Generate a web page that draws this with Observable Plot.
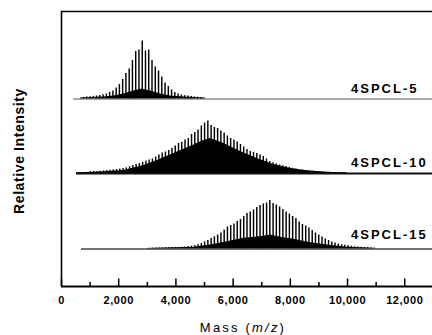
<!DOCTYPE html>
<html><head><meta charset="utf-8">
<script src="https://cdn.jsdelivr.net/npm/d3@7"></script>
<script src="https://cdn.jsdelivr.net/npm/@observablehq/plot@0.6"></script>
<style>
body{margin:0;background:#fff}
#chart svg{display:block}
#chart g[aria-label="x-axis tick label"] text{font-weight:bold;letter-spacing:0.6px}
</style></head><body><div id="chart"></div>
<script>
// ---- data ----
const seriesNames = ["4SPCL-5", "4SPCL-10", "4SPCL-15"];

// 4SPCL-5 main peak series
const s5Mass = [770, 884, 998, 1112, 1226, 1340, 1454, 1568, 1682, 1796, 1910, 2024, 2138, 2252, 2366, 2480, 2594, 2708, 2822, 2936, 3050, 3164, 3278, 3392, 3506, 3620, 3734, 3848, 3962, 4076, 4190, 4304, 4418, 4532, 4646, 4760, 4874, 4988];
const s5Int  = [1.5, 2, 2.2, 2.6, 3, 3.5, 4.2, 5, 6.5, 8, 11, 14.5, 19.5, 25.5, 30, 38.5, 47.5, 49, 58, 48, 49, 38.5, 32, 28, 22, 16, 12.5, 9, 6.5, 5, 4, 3.4, 3, 2.5, 2.1, 1.8, 1.5, 1.3];
// 4SPCL-5 dense low-level peaks (black fill)
const s5FillMass = [664, 1480, 1830, 2180, 2529, 2821, 3112, 3462, 3811, 4277, 4976];
const s5FillInt  = [1, 2, 3, 5, 8, 10, 8, 5, 3, 2, 1];

// 4SPCL-10 main peak series
const s10Mass = [1012, 1126, 1240, 1354, 1468, 1582, 1696, 1810, 1924, 2038, 2152, 2266, 2380, 2494, 2608, 2722, 2836, 2950, 3064, 3178, 3292, 3406, 3520, 3634, 3748, 3862, 3976, 4090, 4204, 4318, 4432, 4546, 4660, 4774, 4888, 5002, 5116, 5230, 5344, 5458, 5572, 5686, 5800, 5914, 6028, 6142, 6256, 6370, 6484, 6598, 6712, 6826, 6940, 7054, 7168, 7282, 7396, 7510, 7624, 7738, 7852, 7966, 8080, 8194, 8308, 8422, 8536, 8650, 8764, 8878, 8992, 9106];
const s10Int  = [1.7, 1.8, 2.0, 2.3, 2.6, 2.9, 3.3, 3.6, 4.0, 4.4, 5.0, 5.6, 6.8, 8.0, 9.0, 10.0, 11.3, 12.4, 13.5, 14.5, 16.5, 18.5, 20.5, 21.5, 23.0, 25.0, 27.5, 30.0, 31.0, 33.5, 35.0, 39.0, 41.0, 43.5, 47.5, 50.5, 52.5, 48.0, 46.0, 45.0, 42.5, 40.5, 37.5, 35.0, 33.5, 31.5, 29.0, 26.5, 24.0, 22.0, 21.0, 20.0, 18.5, 17.0, 14.5, 12.0, 10.8, 9.6, 8.5, 7.8, 6.9, 6.0, 5.2, 4.4, 3.8, 3.3, 2.9, 2.5, 2.2, 1.9, 1.6, 1.3];
const s10FillMass = [524, 1364, 2178, 2878, 3346, 3927, 4510, 4976, 5210, 5675, 6259, 6843, 7423, 8007, 8591, 9056, 9500, 10000];
const s10FillInt  = [0.8, 1.5, 3, 8, 13, 20, 27, 33, 35, 30, 22, 15, 9, 5, 2.7, 1.7, 1, 0.8];

// 4SPCL-15 main peak series
const s15Mass = [3065, 3179, 3293, 3407, 3521, 3635, 3749, 3863, 3977, 4091, 4205, 4319, 4433, 4547, 4661, 4775, 4889, 5003, 5117, 5231, 5345, 5459, 5573, 5687, 5801, 5915, 6029, 6143, 6257, 6371, 6485, 6599, 6713, 6827, 6941, 7055, 7169, 7283, 7397, 7511, 7625, 7739, 7853, 7967, 8081, 8195, 8309, 8423, 8537, 8651, 8765, 8879, 8993, 9107, 9221, 9335, 9449, 9563, 9677, 9791, 9905, 10019, 10133, 10247, 10361, 10475, 10589, 10703, 10817, 10931];
const s15Int  = [0.8, 0.9, 1.0, 1.0, 1.1, 1.2, 1.3, 1.4, 1.5, 1.6, 1.8, 2.0, 2.4, 2.8, 3.3, 4.2, 5.5, 7.2, 8.5, 10.5, 12.2, 14, 16, 19, 22, 23.5, 25, 27.5, 29.5, 32.5, 35.5, 37, 39, 41.5, 43.5, 45, 46, 48.5, 45.5, 44, 42, 39.5, 37, 35, 32.5, 30.5, 27, 24.5, 23, 21, 18.5, 16, 14, 12, 10, 8.5, 7, 6, 5, 4.2, 3.7, 3.2, 2.7, 2.3, 2.0, 1.7, 1.5, 1.3, 1.1, 1.0];
const s15FillMass = [3000, 4626, 5210, 5794, 6374, 6958, 7308, 7657, 8122, 8706, 9290, 9990, 10909];
const s15FillInt  = [0.5, 1.7, 4, 7.3, 10.7, 12.3, 14, 11.7, 9.7, 6.3, 4, 1.7, 0.7];

const baselineStart = [420, 525, 700];   // m/z where each trace begins
const majorTicks = [0, 2000, 4000, 6000, 8000, 10000, 12000];
const minorTicks = [1000, 3000, 5000, 7000, 9000, 11000];

// ---- layout (not data) ----
const layout = {
  offset: [187.5, 113, 37.5],     // vertical stacking of the traces
  labelLift: [5.8, 6.3, 9.8],
  labelMass: 10140,
  baseStroke: ["#555", "#111", "#444"],
  baseWidth: [1.2, 1.8, 1.4],
  xMax: 12970
};

const peaks = [], fills = [], bases = [];
const allMass = [s5Mass, s10Mass, s15Mass], allInt = [s5Int, s10Int, s15Int];
const allFM = [s5FillMass, s10FillMass, s15FillMass], allFI = [s5FillInt, s10FillInt, s15FillInt];
seriesNames.forEach((name, i) => {
  const off = layout.offset[i];
  allMass[i].forEach((m, j) => peaks.push({name, mass: m, y1: off, y2: off + allInt[i][j]}));
  allFM[i].forEach((m, j) => fills.push({name, mass: m, y1: off, y2: off + allFI[i][j]}));
  bases.push({name, x1: baselineStart[i], x2: layout.xMax, y: off, stroke: layout.baseStroke[i], w: layout.baseWidth[i]});
});

const plot = Plot.plot({
  width: 432, height: 335,
  marginLeft: 61, marginRight: 0, marginTop: 11, marginBottom: 49,
  style: {fontFamily: "Arial, 'Liberation Sans', sans-serif", fontSize: "11px", color: "#000", background: "#fff"},
  x: {domain: [0, layout.xMax], label: null},
  y: {domain: [0, 275], axis: null},
  marks: [
    Plot.areaY(fills, {x: "mass", y1: "y1", y2: "y2", z: "name", fill: "#000", curve: "linear"}),
    Plot.ruleX(peaks, {x: "mass", y1: "y1", y2: "y2", stroke: "#000", strokeWidth: 1.45}),
    ...bases.map(b => Plot.ruleY([b.y], {x1: b.x1, x2: b.x2, stroke: b.stroke, strokeWidth: b.w})),
    Plot.ruleX(majorTicks, {x: d => d, y1: 0, y2: 7.5, stroke: "#000", strokeWidth: 1.5}),
    Plot.ruleX(minorTicks, {x: d => d, y1: 0, y2: 4, stroke: "#000", strokeWidth: 1.5}),
    Plot.ruleX([0], {y1: 0, y2: 275, stroke: "#000", strokeWidth: 1.6}),
    Plot.ruleY([275], {stroke: "#000", strokeWidth: 1.6}),
    Plot.ruleY([0], {stroke: "#000", strokeWidth: 2}),
    Plot.axisX({ticks: majorTicks, tickSize: 0, tickPadding: 9.5, tickFormat: d3.format(","), fontWeight: "bold", fill: "#000"})
  ]
});

const svg = d3.select(plot);
const xs = plot.scale("x"), ys = plot.scale("y");
seriesNames.forEach((name, i) => {
  svg.append("text")
    .attr("x", xs.apply(layout.labelMass))
    .attr("y", ys.apply(layout.offset[i] + layout.labelLift[i]))
    .attr("text-anchor", "start")
    .attr("font-size", 13).attr("font-weight", "bold").attr("letter-spacing", "2px")
    .attr("fill", "#000").text(name);
});
const xl = svg.append("text").attr("x", 243).attr("y", 332.3).attr("text-anchor", "middle")
  .attr("font-size", 13).attr("letter-spacing", "2.2px").attr("fill", "#000");
xl.append("tspan").text("Mass (");
xl.append("tspan").attr("font-style", "italic").text("m/z");
xl.append("tspan").text(")");
svg.append("text").attr("transform", "translate(23.5,151) rotate(-90)").attr("text-anchor", "middle")
  .attr("font-size", 14).attr("font-weight", "bold").attr("letter-spacing", "0.6px").attr("fill", "#000")
  .text("Relative Intensity");

document.getElementById("chart").appendChild(plot);
</script></body></html>
